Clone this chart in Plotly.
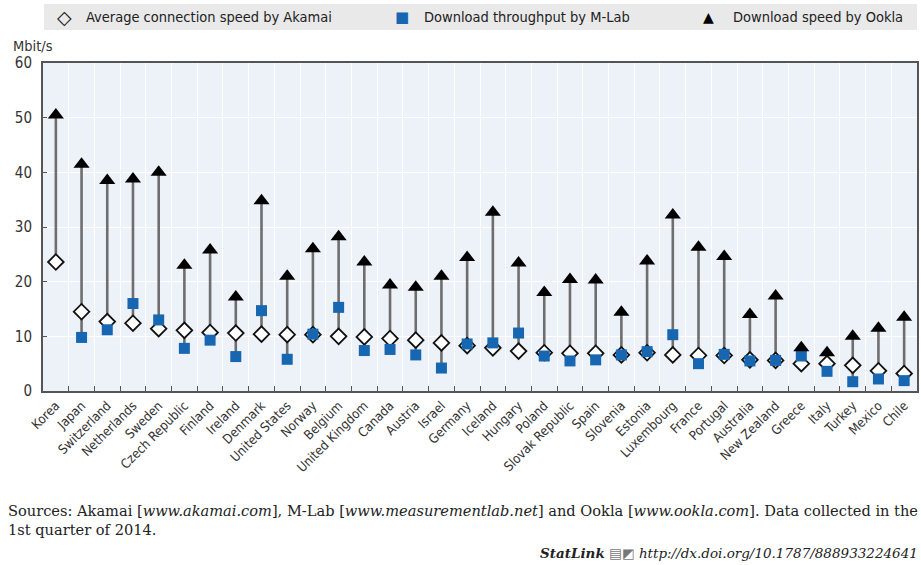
import plotly.graph_objects as go

countries = ["Korea", "Japan", "Switzerland", "Netherlands", "Sweden", "Czech Republic",
             "Finland", "Ireland", "Denmark", "United States", "Norway", "Belgium",
             "United Kingdom", "Canada", "Austria", "Israel", "Germany", "Iceland",
             "Hungary", "Poland", "Slovak Republic", "Spain", "Slovenia", "Estonia",
             "Luxembourg", "France", "Portugal", "Australia", "New Zealand", "Greece",
             "Italy", "Turkey", "Mexico", "Chile"]

akamai = [23.6, 14.5, 12.7, 12.4, 11.4, 11.1, 10.7, 10.6, 10.4, 10.3, 10.3, 10.0,
          9.9, 9.6, 9.3, 8.8, 8.3, 7.9, 7.3, 7.0, 6.9, 6.9, 6.6, 7.0,
          6.6, 6.5, 6.5, 5.7, 5.6, 5.0, 5.0, 4.7, 3.7, 3.2]

mlab = [None, 9.8, 11.2, 16.0, 13.0, 7.8, 9.3, 6.3, 14.7, 5.8, 10.4, 15.3,
        7.4, 7.6, 6.6, 4.2, 8.6, 8.8, 10.6, 6.4, 5.5, 5.7, 6.6, 7.2,
        10.3, 5.0, 6.7, 5.5, 5.6, 6.4, 3.6, 1.7, 2.2, 1.9]

ookla = [50.5, 41.5, 38.5, 38.8, 40.0, 23.0, 25.8, 17.2, 34.8, 21.0, 26.0, 28.2,
         23.6, 19.4, 19.0, 21.0, 24.4, 32.7, 23.4, 18.0, 20.4, 20.3, 14.4, 23.8,
         32.2, 26.3, 24.6, 14.0, 17.4, 7.9, 7.0, 10.0, 11.5, 13.5]

y_ticks = [0, 10, 20, 30, 40, 50, 60]

series_names = ["Average connection speed by Akamai",
                "Download throughput by M-Lab",
                "Download speed by Ookla"]

BLUE = "#1766b1"
COND = "DejaVu Sans Condensed, DejaVu Sans, sans-serif"
SERIF = "DejaVu Serif, Liberation Serif, serif"

# range lines from the lowest to the highest value of each country
lx, ly = [], []
for c, a, m, o in zip(countries, akamai, mlab, ookla):
    vals = [v for v in (a, m, o) if v is not None]
    lx += [c, c, None]
    ly += [min(vals), max(vals), None]

fig = go.Figure()
fig.add_trace(go.Scatter(x=lx, y=ly, mode="lines",
                         line=dict(color="#6e6e6e", width=2.6),
                         showlegend=False, hoverinfo="skip"))
fig.add_trace(go.Scatter(x=countries, y=akamai, mode="markers", name=series_names[0],
                         marker=dict(symbol="diamond", size=12, color="white",
                                     line=dict(color="#111111", width=1.8)),
                         showlegend=False))
fig.add_trace(go.Scatter(x=countries, y=mlab, mode="markers", name=series_names[1],
                         marker=dict(symbol="square", size=11, color=BLUE,
                                     line=dict(width=0)),
                         showlegend=False))
fig.add_trace(go.Scatter(x=countries, y=ookla, mode="markers", name=series_names[2],
                         marker=dict(symbol="triangle-up", size=14, color="#000000",
                                     line=dict(width=0)),
                         showlegend=False))

L, R, T, B = 43, 4, 63, 174
PW, PH = 921 - L - R, 565 - T - B

fig.update_layout(
    width=921, height=565,
    margin=dict(l=L, r=R, t=T, b=B, autoexpand=False),
    paper_bgcolor="white",
    plot_bgcolor="#edf1f8",
    showlegend=False,
    font=dict(family=COND, color="#333333"),
)

fig.update_xaxes(
    type="category", categoryorder="array", categoryarray=countries,
    tickangle=-45, tickfont=dict(family=COND, size=13, color="#333333"),
    showgrid=True, gridcolor="white", gridwidth=1.2,
    tickson="boundaries", ticks="inside", ticklen=5, tickcolor="#555555",
    showline=True, linecolor="#555555", linewidth=2, mirror=True,
    range=[-0.5, len(countries) - 0.5],
)
fig.update_yaxes(
    range=[0, 60], tickvals=y_ticks,
    tickfont=dict(family=COND, size=15, color="#333333"),
    showgrid=True, gridcolor="white", gridwidth=1.2,
    ticks="inside", ticklen=4, tickcolor="#555555",
    showline=True, linecolor="#555555", linewidth=2, mirror=True,
    zeroline=False, ticklabelstandoff=6,
)


def px_x(x):
    return (x - L) / PW


def px_y(y):
    return (565 - B - y) / PH


# manual legend
fig.add_shape(type="rect", xref="paper", yref="paper",
              x0=px_x(44), x1=px_x(917), y0=px_y(30), y1=px_y(4),
              line=dict(width=0), fillcolor="#e9e9e9", layer="below")

annos = []
legend_items = [
    (64, "◇", "#111111", 84, series_names[0], 19),
    (402, "■", BLUE, 422, series_names[1], 15),
    (708, "▲", "#000000", 731, series_names[2], 14),
]
for sx, sym, col, tx, txt, ss in legend_items:
    annos.append(dict(x=px_x(sx), y=px_y(17), xref="paper", yref="paper",
                      text=sym, showarrow=False, xanchor="center", yanchor="middle",
                      font=dict(family="DejaVu Sans", size=ss, color=col)))
    annos.append(dict(x=px_x(tx), y=px_y(17), xref="paper", yref="paper",
                      text=txt, showarrow=False, xanchor="left", yanchor="middle",
                      font=dict(family=COND, size=14.5, color="#222222")))

annos.append(dict(x=px_x(11), y=px_y(46), xref="paper", yref="paper",
                  text="Mbit/s", showarrow=False, xanchor="left", yanchor="middle",
                  font=dict(family=COND, size=14.5, color="#333333")))

annos.append(dict(x=px_x(6), y=px_y(520), xref="paper", yref="paper",
                  text=("Sources: Akamai [<i>www.akamai.com</i>], M-Lab [<i>www.measurementlab.net</i>] "
                        "and Ookla [<i>www.ookla.com</i>]. Data collected in the<br>1st quarter of 2014."),
                  showarrow=False, xanchor="left", yanchor="middle", align="left",
                  font=dict(family=SERIF, size=14.6, color="#222222")))
annos.append(dict(x=px_x(920), y=px_y(553), xref="paper", yref="paper",
                  text="<b><i>StatLink</i></b> <span style='color:#777'>▤◩</span> <i>http://dx.doi.org/10.1787/888933224641</i>",
                  showarrow=False, xanchor="right", yanchor="middle",
                  font=dict(family=SERIF, size=13.5, color="#222222")))

fig.update_layout(annotations=annos)

fig.write_html("out.html",
               config={"displayModeBar": False},
               post_script="document.body.style.margin='0';document.body.style.overflow='hidden';")
